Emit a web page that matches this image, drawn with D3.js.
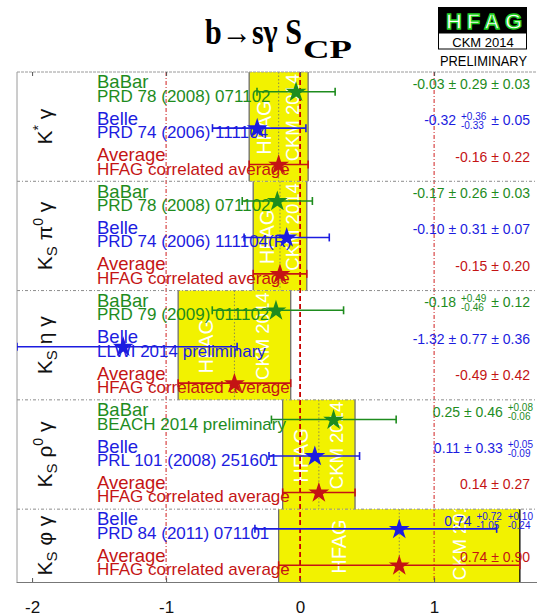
<!DOCTYPE html>
<html>
<head>
<meta charset="utf-8">
<script src="https://cdn.jsdelivr.net/npm/d3@7"></script>
<style>
  html, body { margin: 0; padding: 0; background: #fff; }
  svg { display: block; }
  text { font-family: "Liberation Sans", Arial, Helvetica, sans-serif; }
</style>
</head>
<body>
<svg id="chart" width="537" height="614"></svg>
<script>
// ---- data ----------------------------------------------------------
// decay modes (one panel each), with label pieces: [text, "", "sup", "sub"]
const modeLabels = [
  [["K", ""], ["*", "sup"], [" γ", ""]],
  [["K", ""], ["S", "sub"], [" π", ""], ["0", "sup"], [" γ", ""]],
  [["K", ""], ["S", "sub"], [" η γ", ""]],
  [["K", ""], ["S", "sub"], [" ρ", ""], ["0", "sup"], [" γ", ""]],
  [["K", ""], ["S", "sub"], [" φ γ", ""]]
];

// one entry per measurement row, top to bottom
const rowMode = [0, 0, 0, 1, 1, 1, 2, 2, 2, 3, 3, 3, 4, 4];
const rowExperiment = ["BaBar", "Belle", "Average",
                       "BaBar", "Belle", "Average",
                       "BaBar", "Belle", "Average",
                       "BaBar", "Belle", "Average",
                       "Belle", "Average"];
const rowReference = ["PRD 78 (2008) 071102", "PRD 74 (2006) 111104", "HFAG correlated average",
                      "PRD 78 (2008) 071102", "PRD 74 (2006) 111104(R)", "HFAG correlated average",
                      "PRD 79 (2009) 011102", "LLWI 2014 preliminary", "HFAG correlated average",
                      "BEACH 2014 preliminary", "PRL 101 (2008) 251601", "HFAG correlated average",
                      "PRD 84 (2011) 071101", "HFAG correlated average"];
const rowValue   = [-0.03, -0.32, -0.16, -0.17, -0.10, -0.15, -0.18, -1.32, -0.49, 0.25, 0.11, 0.14, 0.74, 0.74];
const rowStatHi  = [0.29, 0.36, 0.22, 0.26, 0.31, 0.20, 0.49, 0.77, 0.42, 0.46, 0.33, 0.27, 0.72, 0.90];
const rowStatLo  = [0.29, 0.33, 0.22, 0.26, 0.31, 0.20, 0.46, 0.77, 0.42, 0.46, 0.33, 0.27, 1.05, 0.90];
const rowSystHi  = [0.03, 0.05, null, 0.03, 0.07, null, 0.12, 0.36, null, 0.08, 0.05, null, 0.10, null];
const rowSystLo  = [0.03, 0.05, null, 0.03, 0.07, null, 0.12, 0.36, null, 0.06, 0.09, null, 0.24, null];

const xTicks = [-2, -1, 0, 1];
const expColor = { "BaBar": "#1e8c1e", "Belle": "#1c1ce0", "Average": "#c41414" };

// ---- layout --------------------------------------------------------
const svg = d3.select("#chart");
const plotTop = 72, plotBottom = 582, plotLeft = 17, plotRight = 541;

const x = d3.scaleLinear().domain([-2.12, 1.8]).range([16, 541.3]);
const y = d3.scaleBand().domain(d3.range(rowValue.length)).range([plotTop, plotBottom]);
const rowY = i => y(i) + y.bandwidth() / 2 + 1.5;

const rows = rowValue.map((v, i) => {
  const sHi = rowSystHi[i] || 0, sLo = rowSystLo[i] || 0;
  return {
    i, mode: rowMode[i], exp: rowExperiment[i], ref: rowReference[i], v,
    statHi: rowStatHi[i], statLo: rowStatLo[i], systHi: rowSystHi[i], systLo: rowSystLo[i],
    totHi: Math.hypot(rowStatHi[i], sHi), totLo: Math.hypot(rowStatLo[i], sLo)
  };
});

const panels = modeLabels.map((lab, m) => {
  const idx = rows.filter(r => r.mode === m).map(r => r.i);
  const avg = rows.find(r => r.mode === m && r.exp === "Average");
  return { m, lab, top: y(idx[0]), bottom: y(idx[idx.length - 1]) + y.bandwidth(), avg };
});

svg.append("defs").append("clipPath").attr("id", "plotClip")
  .append("rect").attr("x", plotLeft).attr("y", plotTop)
  .attr("width", plotRight - plotLeft).attr("height", plotBottom - plotTop);

panels.forEach(p => {
  svg.select("defs").append("clipPath").attr("id", "panelClip" + p.m)
    .append("rect").attr("x", x(p.avg.v - p.avg.totLo)).attr("y", p.top)
    .attr("width", x(p.avg.v + p.avg.totHi) - x(p.avg.v - p.avg.totLo))
    .attr("height", p.bottom - p.top);
});

const plot = svg.append("g").attr("clip-path", "url(#plotClip)");

// ---- yellow average bands ------------------------------------------
panels.forEach(p => {
  const x0 = x(p.avg.v - p.avg.totLo), x1 = x(p.avg.v + p.avg.totHi);
  plot.append("rect").attr("x", x0).attr("y", p.top).attr("width", x1 - x0)
    .attr("height", p.bottom - p.top).attr("fill", "#f2f200");
  plot.append("line").attr("x1", x0).attr("x2", x0).attr("y1", p.top).attr("y2", p.bottom)
    .attr("stroke", "#6e6e6e").attr("stroke-width", 1.3);
  plot.append("line").attr("x1", x1).attr("x2", x1).attr("y1", p.top).attr("y2", p.bottom)
    .attr("stroke", p.m === panels.length - 1 ? "#000" : "#6e6e6e").attr("stroke-width", 1.3);
  // centre of the average
  plot.append("line").attr("x1", x(p.avg.v)).attr("x2", x(p.avg.v))
    .attr("y1", p.top).attr("y2", p.bottom)
    .attr("stroke", "#8a8a50").attr("stroke-width", 1).attr("stroke-dasharray", "1.5,2");
  // watermark text inside the band
  const wg = plot.append("g").attr("clip-path", "url(#panelClip" + p.m + ")");
  const cy = (p.top + p.bottom) / 2;
  wg.append("text").attr("transform", `translate(${x0 + 0.25 * (x1 - x0) + 7},${cy + 1}) rotate(-90)`)
    .attr("text-anchor", "middle").attr("fill", "#fff").style("font-size", "20px").text("HFAG");
  wg.append("text").attr("transform", `translate(${x0 + 0.75 * (x1 - x0) + 6},${cy - 9}) rotate(-90)`)
    .attr("text-anchor", "middle").attr("fill", "#fff").style("font-size", "18.5px").text("CKM 2014");
});

// ---- reference lines -----------------------------------------------
[-1, 1].forEach(v => {
  plot.append("line").attr("x1", x(v)).attr("x2", x(v)).attr("y1", plotTop).attr("y2", plotBottom)
    .attr("stroke", "#d02020").attr("stroke-width", 1).attr("stroke-dasharray", "4,2,1,2");
});
plot.append("line").attr("x1", x(0)).attr("x2", x(0)).attr("y1", plotTop).attr("y2", plotBottom)
  .attr("stroke", "#c80000").attr("stroke-width", 1.8).attr("stroke-dasharray", "5,3");

// panel separators
panels.slice(1).forEach(p => {
  svg.append("line").attr("x1", plotLeft).attr("x2", 537).attr("y1", p.top).attr("y2", p.top)
    .attr("stroke", "#8c8c8c").attr("stroke-width", 1).attr("stroke-dasharray", "3,2,1,2");
});
svg.append("line").attr("x1", plotLeft).attr("x2", 537).attr("y1", plotTop).attr("y2", plotTop)
  .attr("stroke", "#9a9a9a").attr("stroke-width", 1).attr("stroke-dasharray", "3,1");
svg.append("line").attr("x1", plotLeft).attr("x2", plotLeft).attr("y1", plotTop).attr("y2", plotBottom)
  .attr("stroke", "#9a9a9a").attr("stroke-width", 1);

// ---- axes ----------------------------------------------------------
const axB = svg.append("g").attr("transform", `translate(0,${plotBottom})`)
  .call(d3.axisBottom(x).tickValues(xTicks).tickFormat(d => String(d))
    .tickSizeInner(-4).tickSizeOuter(0).tickPadding(19));
axB.select(".domain").attr("stroke", "#777").attr("stroke-width", 1.2);
axB.selectAll(".tick line").attr("stroke", "#555");
axB.selectAll(".tick text").style("font-size", "17px").attr("fill", "#111")
  .style("font-family", "'Liberation Sans', Arial, sans-serif");

const axT = svg.append("g").attr("transform", `translate(0,${plotTop})`)
  .call(d3.axisTop(x).tickValues(xTicks).tickFormat("").tickSizeInner(-4).tickSizeOuter(0));
axT.select(".domain").remove();
axT.selectAll(".tick line").attr("stroke", "#555");

// ---- mode labels (rotated) -----------------------------------------
panels.forEach(p => {
  const t = svg.append("text")
    .attr("transform", `translate(52,${(p.top + p.bottom) / 2}) rotate(-90)`)
    .attr("text-anchor", "middle").attr("fill", "#111").style("font-size", "21px");
  let shift = 0;
  p.lab.forEach(([s, kind]) => {
    const ts = t.append("tspan").text(s);
    if (kind === "sup") { ts.attr("dy", -9 - shift).style("font-size", "14px"); shift = -9; }
    else if (kind === "sub") { ts.attr("dy", 5 - shift).style("font-size", "15px"); shift = 5; }
    else { if (shift) ts.attr("dy", -shift); shift = 0; }
  });
});

// ---- experiment / reference labels ---------------------------------
const labels = svg.append("g");
rows.forEach(r => {
  const yc = rowY(r.i);
  labels.append("text").attr("x", 97).attr("y", yc - 3.5).attr("fill", expColor[r.exp])
    .style("font-size", "18.5px").text(r.exp);
  labels.append("text").attr("x", 97).attr("y", yc + 10).attr("fill", expColor[r.exp])
    .style("font-size", "17px").text(r.ref);
});

// ---- error bars and markers ----------------------------------------
const marks = svg.append("g").attr("clip-path", "url(#plotClip)");
const clampX = v => Math.max(plotLeft, Math.min(plotRight, x(v)));
rows.forEach(r => {
  const yc = rowY(r.i), c = expColor[r.exp];
  const xl = clampX(r.v - r.totLo), xr = clampX(r.v + r.totHi);
  marks.append("line").attr("x1", xl).attr("x2", xr).attr("y1", yc).attr("y2", yc)
    .attr("stroke", c).attr("stroke-width", 1.6);
  [xl, xr].forEach(xx => marks.append("line").attr("x1", xx).attr("x2", xx)
    .attr("y1", yc - 4).attr("y2", yc + 4).attr("stroke", c).attr("stroke-width", 1.6));
  marks.append("path").attr("d", d3.symbol(d3.symbolStar, 135)())
    .attr("transform", `translate(${x(r.v)},${yc + 0.5})`).attr("fill", c);
});

// ---- value texts ---------------------------------------------------
const fmt = v => v.toFixed(2);
function valueParts(r) {
  const parts = [fmt(r.v)];
  if (r.statHi === r.statLo) parts.push(" ± " + fmt(r.statHi));
  else parts.push(" ", { hi: "+" + fmt(r.statHi), lo: "-" + fmt(r.statLo) });
  if (r.systHi != null) {
    if (r.systHi === r.systLo) parts.push(" ± " + fmt(r.systHi));
    else parts.push(" ", { hi: "+" + fmt(r.systHi), lo: "-" + fmt(r.systLo) });
  }
  return parts;
}
const values = svg.append("g");
rows.forEach(r => {
  const g = values.append("g").attr("fill", expColor[r.exp]);
  let cx = 0, endsStacked = false;
  valueParts(r).forEach(p => {
    if (typeof p === "string") {
      const t = g.append("text").attr("x", cx).attr("y", 0).style("font-size", "14px")
        .attr("xml:space", "preserve").style("white-space", "pre").text(p);
      cx += t.node().getComputedTextLength();
      endsStacked = false;
    } else {
      const a = g.append("text").attr("x", cx + 1).attr("y", -5.5).style("font-size", "10px").text(p.hi);
      const b = g.append("text").attr("x", cx + 1).attr("y", 3.5).style("font-size", "10px").text(p.lo);
      cx += Math.max(a.node().getComputedTextLength(), b.node().getComputedTextLength()) + 2;
      endsStacked = true;
    }
  });
  const right = endsStacked ? 534 : 530;
  g.attr("transform", `translate(${right - cx},${rowY(r.i) - 3})`);
});

// ---- title ---------------------------------------------------------
const titleFont = "'Liberation Serif', 'Times New Roman', serif";
svg.append("text").attr("x", 205).attr("y", 44)
  .attr("textLength", 97).attr("lengthAdjust", "spacingAndGlyphs")
  .style("font-family", titleFont).style("font-weight", "bold").style("font-size", "35px")
  .attr("fill", "#000").text("b→sγ S");
svg.append("text").attr("x", 303).attr("y", 58)
  .attr("textLength", 49).attr("lengthAdjust", "spacingAndGlyphs")
  .style("font-family", titleFont).style("font-weight", "bold").style("font-size", "25px")
  .attr("fill", "#000").text("CP");

// ---- HFAG logo -----------------------------------------------------
const logo = svg.append("g");
logo.append("rect").attr("x", 438).attr("y", 7).attr("width", 89).attr("height", 26).attr("fill", "#000");
logo.append("text").attr("x", 446).attr("y", 29).attr("textLength", 76).attr("lengthAdjust", "spacing")
  .style("font-size", "22px").style("font-weight", "bold")
  .attr("fill", "#fff").attr("stroke", "#20d020").attr("stroke-width", 1.3).text("HFAG");
logo.append("rect").attr("x", 438.5).attr("y", 33).attr("width", 88).attr("height", 16)
  .attr("fill", "#fff").attr("stroke", "#000").attr("stroke-width", 1);
logo.append("text").attr("x", 483).attr("y", 46.5).attr("text-anchor", "middle")
  .style("font-size", "13px").attr("fill", "#000").text("CKM 2014");
logo.append("text").attr("x", 440).attr("y", 65.5).attr("textLength", 87).attr("lengthAdjust", "spacingAndGlyphs")
  .style("font-size", "15px").attr("fill", "#000").text("PRELIMINARY");
</script>
</body>
</html>
